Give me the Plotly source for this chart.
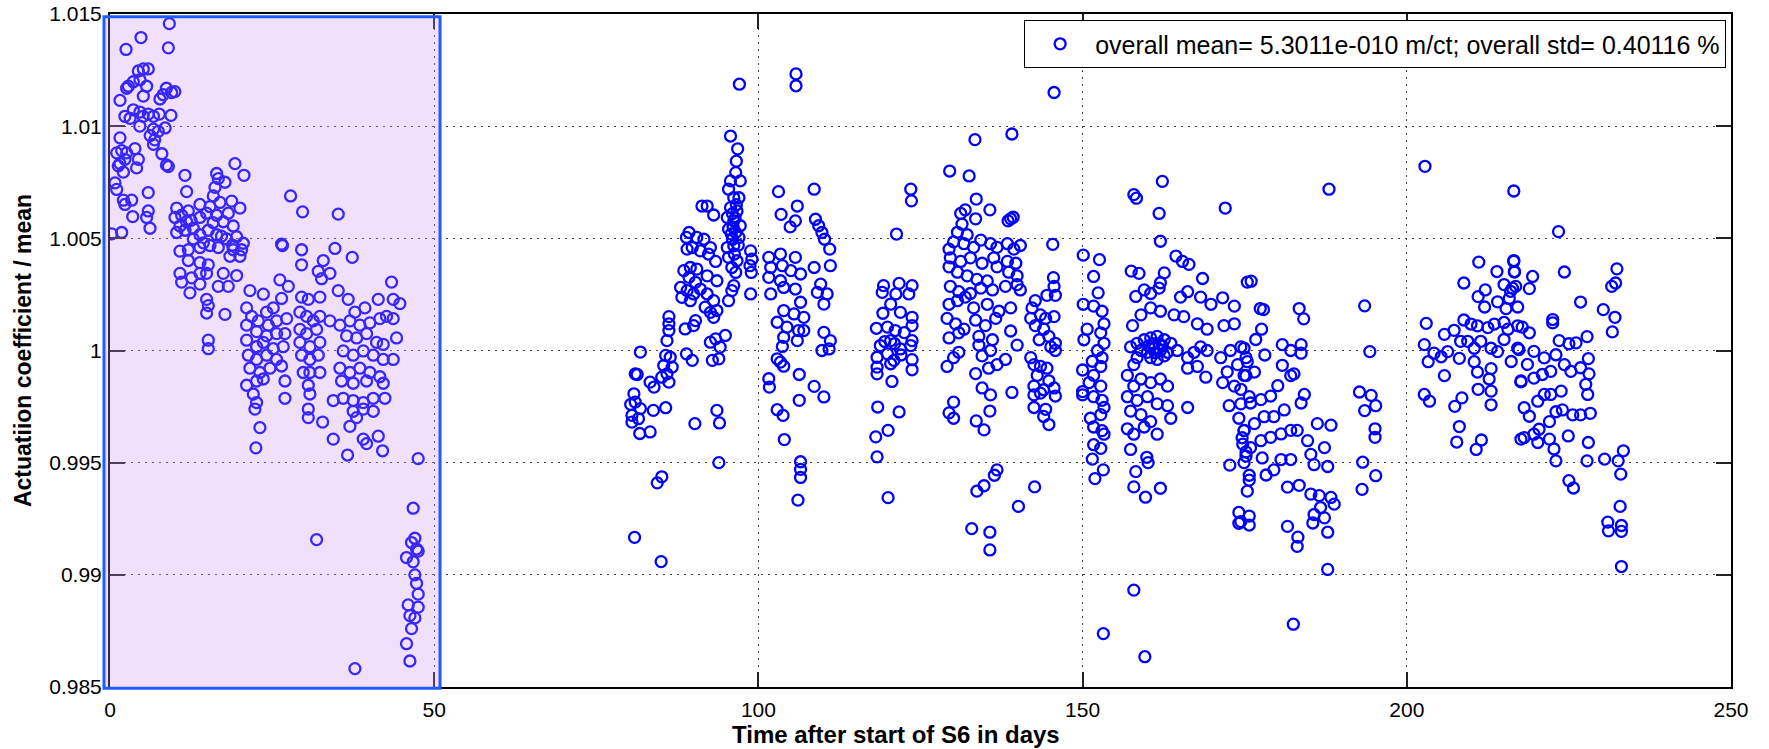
import plotly.graph_objects as go

# ---- data: (day, actuation coefficient / mean) ----
seg_days_0_10 = [
    (9.15, 1.01457), (4.78, 1.01395), (2.47, 1.01342), (9.0, 1.01349), (1.54, 1.01115),
    (5.14, 1.01255), (5.9, 1.01255), (4.37, 1.01246), (3.6, 1.01198), (2.83, 1.01178),
    (2.57, 1.01169), (4.62, 1.01207), (5.65, 1.01178), (5.14, 1.01134), (7.7, 1.01121),
    (8.2, 1.0114), (8.7, 1.01169), (9.5, 1.0115), (10.0, 1.01154), (2.3, 1.01044),
    (3.1, 1.01035), (3.6, 1.01073), (4.6, 1.01063), (5.1, 1.01044), (5.9, 1.01054),
    (6.7, 1.01044), (7.6, 1.01054), (9.4, 1.01048), (4.6, 1.0100), (6.7, 1.00987),
    (7.45, 1.00977), (8.5, 1.00992), (6.2, 1.00958), (6.9, 1.00939), (6.7, 1.00919),
    (8.0, 1.00877), (8.7, 1.00827), (9.0, 1.0082), (1.54, 1.00948), (1.03, 1.00881),
    (1.8, 1.00891), (2.57, 1.00881), (3.85, 1.009), (4.37, 1.00852), (4.1, 1.00814),
    (2.3, 1.00852), (1.54, 1.00833), (2.06, 1.00795), (1.28, 1.00823), (0.77, 1.00747),
    (1.03, 1.00718), (2.06, 1.0067), (2.3, 1.00651), (3.34, 1.0067), (3.5, 1.00597),
    (5.9, 1.00704), (5.65, 1.00593), (6.17, 1.00545), (5.9, 1.00622), (1.8, 1.00526),
    (0.26, 1.0052),
]
seg_days_10_21 = [
    (11.56, 1.00781), (16.44, 1.00789), (16.7, 1.00766), (17.73, 1.0075), (19.27, 1.00833),
    (20.66, 1.00781), (11.82, 1.00708), (16.19, 1.00727), (15.93, 1.00689), (18.76, 1.00666),
    (20.04, 1.00635), (10.28, 1.00635), (11.05, 1.00603), (12.08, 1.00622), (13.87, 1.00651),
    (15.42, 1.00641), (16.96, 1.0066), (18.24, 1.00612), (10.02, 1.00593), (10.79, 1.00555),
    (11.82, 1.00574), (12.85, 1.00545), (13.87, 1.00593), (14.9, 1.00612), (16.44, 1.00603),
    (17.47, 1.00574), (19.01, 1.00555), (10.28, 1.00526), (11.56, 1.00536), (12.85, 1.00497),
    (13.87, 1.00516), (15.16, 1.00536), (16.44, 1.00516), (17.99, 1.00497), (19.53, 1.00507),
    (20.55, 1.00478), (10.79, 1.00443), (12.08, 1.00449), (13.87, 1.00459), (15.42, 1.00468),
    (16.7, 1.00459), (19.01, 1.00449), (20.3, 1.00449), (12.08, 1.00401), (13.87, 1.00392),
    (15.16, 1.00382), (18.5, 1.0042), (20.04, 1.0042), (10.79, 1.00344), (11.05, 1.00305),
    (12.59, 1.00324), (13.87, 1.00344), (14.9, 1.00344), (17.47, 1.00344), (19.53, 1.00334),
    (12.33, 1.00257), (13.87, 1.00296), (16.7, 1.00286), (18.24, 1.00286), (14.9, 1.00228),
    (15.16, 1.002), (14.9, 1.00167), (17.73, 1.00161), (15.16, 1.00046), (15.16, 1.00008),
    (14.4, 1.0048), (15.9, 1.0057), (17.2, 1.0051), (18.9, 1.0047), (12.5, 1.0058),
]
seg_days_21_48 = [
    (26.46, 1.00474), (26.6, 1.00468), (27.85, 1.00689), (29.7, 1.00618), (29.55, 1.00449),
    (29.55, 1.00382), (35.2, 1.00608), (34.69, 1.00455), (37.36, 1.00415), (32.89, 1.00401),
    (32.12, 1.00353), (33.92, 1.00344), (32.63, 1.0032), (26.2, 1.00315), (27.5, 1.00286),
    (21.58, 1.00267), (23.64, 1.00251), (26.46, 1.00232), (25.18, 1.0019), (24.15, 1.00171),
    (21.07, 1.0019), (21.84, 1.00152), (22.87, 1.00132), (24.41, 1.00113), (25.69, 1.00132),
    (27.24, 1.00142), (21.07, 1.00113), (22.61, 1.00084), (24.15, 1.00065), (25.69, 1.00075),
    (26.98, 1.00075), (21.07, 1.00046), (22.61, 1.00017), (23.64, 1.00036), (25.18, 1.00008),
    (26.72, 1.00017), (21.33, 0.99979), (22.61, 0.9996), (24.15, 0.99979), (25.69, 0.9996),
    (21.58, 0.99921), (23.12, 0.99902), (24.67, 0.99921), (26.46, 0.99931), (21.07, 0.99845),
    (22.61, 0.99864), (23.64, 0.99873), (26.98, 0.99864), (22.1, 0.99806), (22.61, 0.99768),
    (22.35, 0.99739), (26.98, 0.99787), (23.12, 0.99656), (22.5, 0.99566),
    (29.55, 1.00238), (30.58, 1.00228), (32.37, 1.00238), (29.29, 1.00171), (30.32, 1.00152),
    (31.35, 1.00132), (32.37, 1.00152), (33.92, 1.00132), (29.29, 1.00094), (30.32, 1.00075),
    (31.86, 1.00094), (29.29, 1.00036), (30.83, 1.00017), (32.37, 1.00036), (29.55, 0.99979),
    (30.83, 0.9996), (32.12, 0.99979), (29.8, 0.99902), (30.83, 0.99902), (32.37, 0.99902),
    (30.58, 0.99845), (30.83, 0.99806), (30.58, 0.99739), (30.58, 0.99701), (32.79, 0.99681),
    (34.43, 0.99605), (35.2, 1.00267), (36.74, 1.00228), (37.77, 1.00171), (39.31, 1.0019),
    (41.37, 1.00228), (43.42, 1.00305), (43.68, 1.00228), (44.71, 1.00209), (35.46, 1.00113),
    (37.0, 1.00132), (38.54, 1.00113), (40.08, 1.00123), (41.62, 1.00142), (42.65, 1.00152),
    (43.68, 1.00142), (36.49, 1.00065), (38.03, 1.00056), (39.57, 1.00075), (41.11, 1.00036),
    (42.14, 1.00027), (44.19, 1.00056), (35.97, 0.99998), (37.51, 0.99979), (39.06, 0.99998),
    (40.6, 0.99979), (42.14, 0.9996), (43.68, 0.9996), (35.46, 0.99921), (37.0, 0.99902),
    (38.54, 0.99921), (40.08, 0.99902), (41.62, 0.99883), (35.71, 0.99864), (37.51, 0.99854),
    (39.57, 0.99864), (42.14, 0.99854), (34.43, 0.99777), (35.97, 0.99787), (37.51, 0.99777),
    (39.06, 0.99768), (40.6, 0.99787), (42.4, 0.99787), (37.51, 0.99729), (39.06, 0.99739),
    (40.6, 0.99729), (38.03, 0.99701), (37.0, 0.99662), (39.06, 0.99605), (39.57, 0.99585),
    (41.37, 0.99618), (42.04, 0.99553), (36.64, 0.99534), (47.53, 0.99518),
    (31.86, 0.99157), (46.76, 0.99297), (47.02, 0.99163), (46.5, 0.99144), (47.28, 0.99115),
    (45.73, 0.99077), (46.76, 0.99058), (47.53, 0.99106), (47.02, 0.9900), (47.28, 0.98962),
    (47.53, 0.98914), (45.99, 0.98866), (47.53, 0.98856), (46.25, 0.98818), (47.02, 0.98808),
    (46.5, 0.9876), (45.73, 0.98693), (46.25, 0.98616), (37.77, 0.98582),
]
seg_days_75_126 = [
    (97.07, 1.01187), (105.8, 1.01233), (105.8, 1.0118),
    (81.8, 0.99993), (81.0, 0.99896), (81.3, 0.99893), (83.3, 0.99859), (83.9, 0.99837),
    (80.8, 0.99807), (80.3, 0.9976), (81.0, 0.9977), (81.8, 0.99741), (80.5, 0.99711),
    (81.5, 0.99696), (80.5, 0.99681), (81.7, 0.9963), (83.3, 0.99637), (83.8, 0.99733),
    (85.7, 0.99745), (84.4, 0.9941), (85.1, 0.99437), (80.9, 0.99167), (85.0, 0.99059),
    (86.2, 1.00151), (86.2, 1.00119), (86.2, 1.00089), (85.9, 1.00044), (85.7, 0.99978),
    (86.4, 0.9997), (85.4, 0.99933), (86.7, 0.99926), (85.9, 0.99896), (85.1, 0.99881),
    (86.2, 0.99859), (88.7, 1.00096), (90.3, 1.00133), (90.0, 1.00111), (88.9, 0.99985),
    (89.8, 0.99956), (90.2, 0.99674),
    (89.3, 1.00526), (88.9, 1.00504), (89.0, 1.00452), (90.5, 1.00504), (91.6, 1.00496),
    (91.3, 1.00644), (92.1, 1.00644), (93.1, 1.00604), (89.8, 1.00459), (91.05, 1.00444),
    (92.6, 1.00459), (92.3, 1.0043), (93.4, 1.00397), (88.5, 1.00356), (89.5, 1.0037),
    (90.5, 1.00363), (89.3, 1.00326), (90.3, 1.00304), (92.1, 1.00333), (93.6, 1.00311),
    (88.0, 1.00281), (89.0, 1.00267), (90.0, 1.00252), (91.05, 1.00274), (88.2, 1.00237),
    (89.5, 1.00222), (92.1, 1.00252), (93.1, 1.00222), (91.8, 1.00193), (92.6, 1.0017),
    (93.6, 1.00178), (93.1, 1.00148), (92.6, 1.00037), (93.4, 1.00052), (94.1, 1.00015),
    (94.9, 1.00067), (92.9, 0.99956), (93.9, 0.99963), (93.6, 0.99733), (94.0, 0.99677),
    (93.9, 0.995),
    (95.7, 1.00956), (96.8, 1.00899), (96.6, 1.00844), (96.5, 1.00793), (95.7, 1.00756),
    (97.2, 1.00756), (95.4, 1.00719), (96.2, 1.00681), (97.0, 1.00681), (95.7, 1.00637),
    (96.7, 1.00622), (95.2, 1.00593), (96.2, 1.00578), (97.2, 1.00556), (95.4, 1.00541),
    (96.5, 1.00526), (96.0, 1.00496), (97.0, 1.00504), (95.2, 1.00459), (96.2, 1.00467),
    (95.4, 1.00415), (96.7, 1.004), (95.9, 1.0037), (96.5, 1.00348), (96.2, 1.00289),
    (95.9, 1.00267), (95.4, 1.00222), (96.0, 1.0061), (96.4, 1.0059), (96.1, 1.0055),
    (96.6, 1.0065), (95.8, 1.0052), (96.9, 1.0047), (96.3, 1.0043),
    (98.8, 1.00444), (99.0, 1.00407), (98.7, 1.00378), (98.9, 1.00348), (98.8, 1.00252),
    (103.1, 1.00708), (108.6, 1.00719), (106.0, 1.00644), (103.5, 1.00607), (105.7, 1.00578),
    (104.9, 1.00551), (108.8, 1.00585), (109.3, 1.00556), (109.8, 1.00526), (110.2, 1.00496),
    (111.0, 1.00452), (111.1, 1.00378), (108.6, 1.0037), (101.6, 1.00415), (103.4, 1.0043),
    (105.7, 1.00415), (101.9, 1.0037), (103.7, 1.00378), (105.0, 1.00356), (106.5, 1.00341),
    (101.6, 1.00326), (103.4, 1.00311), (105.7, 1.00274), (101.9, 1.00252), (103.9, 1.00281),
    (109.6, 1.00296), (109.1, 1.00259), (110.6, 1.00252), (110.1, 1.00207), (106.5, 1.00215),
    (103.9, 1.00178), (105.5, 1.00163), (107.0, 1.00148), (102.9, 1.00126), (104.4, 1.00104),
    (106.2, 1.00089), (107.0, 1.00089), (103.9, 1.00059), (106.0, 1.00044), (110.1, 1.00081),
    (111.1, 1.00044), (109.8, 1.0), (110.9, 1.00007), (103.7, 1.00018), (102.9, 0.99963),
    (103.4, 0.99948), (103.9, 0.9993), (106.3, 0.99893), (101.6, 0.99874), (101.7, 0.99837),
    (108.6, 0.9984), (110.1, 0.99793), (106.3, 0.99778), (102.9, 0.99736), (103.8, 0.99711),
    (104.0, 0.99603), (106.5, 0.99504), (106.5, 0.9947), (106.5, 0.99434), (106.1, 0.99333),
    (123.5, 1.00719), (123.6, 1.00667), (121.3, 1.00519), (119.3, 1.00289), (119.1, 1.00259),
    (121.7, 1.00299), (123.7, 1.00289), (121.2, 1.00252), (123.2, 1.00252), (120.4, 1.00207),
    (119.2, 1.00166), (121.9, 1.0017), (123.7, 1.00148), (118.2, 1.00099), (119.9, 1.00104),
    (121.1, 1.00089), (123.7, 1.00111), (118.8, 1.00022), (120.4, 1.00044), (121.9, 1.00007),
    (123.7, 1.00044), (123.5, 1.00022), (118.3, 0.9997), (119.9, 0.99985), (120.9, 0.99956),
    (123.7, 0.99959), (118.3, 0.99926), (120.4, 0.99941), (123.7, 0.99914), (118.3, 0.99896),
    (120.6, 0.99862), (118.4, 0.99748), (121.7, 0.99726), (120.0, 0.99644), (118.1, 0.99615),
    (118.3, 0.99526), (120.0, 0.99344), (119.5, 1.0004), (122.5, 1.0008), (121.0, 1.0003),
    (122.0, 0.9998),
]
seg_days_126_176 = [
    (145.6, 1.0115), (133.4, 1.0094), (139.1, 1.00965), (129.5, 1.008), (132.5, 1.00778),
    (133.6, 1.00675), (135.7, 1.00627), (138.9, 1.00587), (138.5, 1.00578), (139.3, 1.00594),
    (131.2, 1.00611), (131.9, 1.00627), (133.5, 1.00587), (131.4, 1.00563), (130.7, 1.00527),
    (132.2, 1.00516), (129.4, 1.00452), (130.1, 1.00484), (131.7, 1.00476), (133.2, 1.0046),
    (134.3, 1.00492), (135.8, 1.00476), (136.8, 1.0046), (138.4, 1.00476), (139.4, 1.00452),
    (140.4, 1.00468), (145.4, 1.00473), (129.6, 1.00413), (131.2, 1.00397), (132.7, 1.00413),
    (134.5, 1.00389), (136.3, 1.00413), (138.4, 1.00397), (139.7, 1.00389), (129.4, 1.00373),
    (130.7, 1.00349), (132.2, 1.00333), (133.7, 1.00317), (135.3, 1.0031), (136.8, 1.00373),
    (138.6, 1.00349), (139.9, 1.00333), (129.6, 1.00286), (130.9, 1.00262), (132.7, 1.00254),
    (134.3, 1.00278), (136.1, 1.0027), (138.1, 1.00286), (139.9, 1.00294), (140.4, 1.0027),
    (129.4, 1.00206), (130.7, 1.00222), (131.9, 1.00238), (133.2, 1.0019), (135.3, 1.00206),
    (137.1, 1.00175), (138.9, 1.0019), (129.1, 1.00143), (130.4, 1.00119), (131.7, 1.00095),
    (133.5, 1.00135), (135.0, 1.00111), (136.6, 1.00143), (138.9, 1.00087), (129.4, 1.00056),
    (130.9, 1.00079), (134.0, 1.00063), (136.1, 1.00048), (139.9, 1.00024), (134.0, 1.00024),
    (135.8, 1.0), (129.1, 0.99929), (130.1, 0.99968), (130.9, 0.99992), (134.5, 0.99976),
    (133.5, 0.99897), (135.5, 0.99921), (136.8, 0.99937), (138.1, 0.9996), (134.5, 0.99833),
    (135.8, 0.99802), (139.1, 0.99813), (135.7, 0.9973), (130.1, 0.9977), (129.4, 0.99722),
    (130.1, 0.99698), (133.6, 0.99686), (134.8, 0.99646), (136.8, 0.99468), (136.4, 0.99444),
    (134.8, 0.99397), (133.7, 0.99373), (142.6, 0.99392), (140.1, 0.99305), (132.9, 0.99206),
    (135.7, 0.9919), (135.7, 0.99111),
    (145.5, 1.00325), (145.6, 1.00286), (145.8, 1.00246), (144.5, 1.00246), (142.7, 1.00222),
    (142.2, 1.0019), (142.0, 1.00143), (143.5, 1.00159), (144.3, 1.00143), (145.6, 1.00151),
    (142.7, 1.00111), (144.0, 1.00095), (144.8, 1.00063), (145.8, 1.00032), (143.3, 1.00048),
    (145.1, 1.00016), (145.8, 1.0), (142.0, 0.99968), (142.5, 0.99937), (143.5, 0.99929),
    (144.5, 0.99921), (143.0, 0.99889), (144.8, 0.99865), (142.5, 0.99841), (144.0, 0.99825),
    (145.6, 0.99833), (142.5, 0.99802), (143.5, 0.9981), (145.8, 0.99797), (142.5, 0.99746),
    (144.3, 0.99738), (144.0, 0.99706), (144.8, 0.9967),
    (150.1, 1.00425), (152.6, 1.00405), (151.7, 1.0033), (152.4, 1.00257), (150.1, 1.00206),
    (151.7, 1.00198), (153.0, 1.00175), (153.3, 1.00119), (150.7, 1.00095), (152.8, 1.00079),
    (150.2, 1.00048), (153.3, 1.00032), (152.3, 1.0), (153.0, 0.99968), (151.5, 0.99952),
    (152.8, 0.99929), (150.0, 0.99913), (151.7, 0.99889), (151.0, 0.99857), (152.8, 0.99841),
    (150.0, 0.99817), (150.0, 0.99802), (151.7, 0.99794), (153.0, 0.99778), (153.3, 0.99746),
    (151.2, 0.99698), (152.8, 0.99714), (151.7, 0.99659), (153.0, 0.99643), (153.3, 0.99627),
    (151.7, 0.9958), (152.8, 0.99564), (151.5, 0.99516), (153.2, 0.99468), (151.9, 0.99429),
    (153.2, 0.98738), (157.9, 0.98932), (159.6, 0.98635),
    (162.3, 1.00754), (157.9, 1.00695), (158.3, 1.00679), (161.8, 1.00611), (162.0, 1.00487),
    (172.0, 1.00635), (164.4, 1.00421), (165.4, 1.00397), (166.4, 1.00384), (157.5, 1.00354),
    (158.7, 1.00344), (162.6, 1.00346), (162.0, 1.00302), (168.5, 1.00321), (158.2, 1.00241),
    (159.5, 1.0027), (160.5, 1.00254), (161.8, 1.00278), (165.1, 1.00238), (166.2, 1.00262),
    (168.2, 1.00238), (169.8, 1.00206), (171.6, 1.00235), (173.4, 1.00198), (157.7, 1.00111),
    (159.0, 1.00159), (160.5, 1.0019), (162.0, 1.00175), (164.1, 1.00159), (165.6, 1.00151),
    (167.7, 1.00119), (169.2, 1.00095), (171.8, 1.00111), (173.4, 1.00119),
    (157.4, 1.00016), (158.4, 1.00032), (159.5, 1.00048), (160.5, 1.00056), (161.5, 1.00063),
    (162.6, 1.00048), (163.6, 1.00032), (159.0, 1.0), (160.0, 0.99992), (161.0, 1.00008),
    (162.0, 1.0), (163.1, 0.99992), (160.5, 0.99968), (161.5, 0.9996), (162.6, 0.99976),
    (158.4, 0.99968), (164.6, 1.0), (166.2, 0.99968), (167.2, 0.99992), (168.2, 1.00016),
    (169.2, 1.0), (166.2, 0.99921), (167.7, 0.99929), (169.0, 0.99881), (157.9, 0.99937),
    (160.8, 1.0003), (161.2, 0.9999), (160.2, 1.0002), (161.8, 1.0003), (162.3, 1.0002),
    (156.9, 0.99889), (157.9, 0.99841), (159.0, 0.99873), (160.5, 0.99857), (162.0, 0.99873),
    (163.1, 0.99841), (156.9, 0.99794), (158.4, 0.99778), (160.0, 0.99794), (161.5, 0.99762),
    (163.1, 0.99754), (163.6, 0.99698), (166.2, 0.99746), (157.4, 0.9973), (159.0, 0.99714),
    (160.5, 0.99683), (156.9, 0.99651), (157.9, 0.99627), (159.5, 0.99659), (161.5, 0.99627),
    (157.4, 0.99559), (158.2, 0.9946), (159.9, 0.99524), (160.1, 0.995), (157.9, 0.99392),
    (159.7, 0.99346), (162.0, 0.99386),
    (175.4, 1.00305), (171.3, 0.99968), (172.8, 1.0), (174.4, 1.00016), (172.3, 0.99905),
    (173.9, 0.99937), (175.2, 0.99968), (171.6, 0.99857), (173.4, 0.99841), (174.9, 0.99889),
    (172.6, 0.99754), (174.4, 0.99762), (175.7, 0.99794), (174.1, 0.99698), (174.9, 0.99643),
    (174.6, 0.99611), (175.2, 0.99548), (174.9, 0.995), (175.7, 0.99444), (172.7, 0.99489),
    (175.4, 0.99373), (174.1, 0.99278), (174.1, 0.9923), (175.7, 0.99262),
]
seg_days_176_218 = [
    (188.0, 1.00719), (202.8, 1.00821), (216.5, 1.00711), (176.0, 1.00309), (177.4, 1.00187),
    (177.9, 1.00182), (177.6, 1.00095), (176.7, 1.00049), (178.1, 0.9998), (183.4, 1.00187),
    (184.1, 1.00141), (180.8, 1.00026), (182.1, 1.0), (183.7, 1.00026), (183.7, 0.99988),
    (193.5, 1.00199), (194.3, 0.99995), (174.9, 1.0001), (175.4, 0.9995), (176.5, 0.99904),
    (175.2, 0.99888), (174.4, 0.99827), (175.9, 0.99766), (177.5, 0.99781), (179.0, 0.99797),
    (180.1, 0.99843), (180.8, 0.99934), (182.1, 0.99888), (182.6, 0.99896),
    (184.2, 0.99804), (183.7, 0.99766), (181.1, 0.99735), (179.5, 0.99705), (178.0, 0.99705),
    (176.5, 0.99674), (174.9, 0.99644), (174.7, 0.99583), (175.9, 0.99567), (177.5, 0.99598),
    (179.0, 0.99613), (180.6, 0.99628), (182.1, 0.99644), (183.1, 0.99644), (184.7, 0.99598),
    (186.2, 0.99674), (188.3, 0.99667), (187.3, 0.99567), (185.2, 0.99537), (185.7, 0.99491),
    (187.8, 0.99483), (182.1, 0.99514), (180.6, 0.99514), (177.7, 0.99521), (179.5, 0.99468),
    (178.3, 0.99445), (175.7, 0.99422), (175.2, 0.99529), (181.6, 0.99391), (183.4, 0.99399),
    (185.2, 0.9936), (186.5, 0.99353), (188.3, 0.99345), (188.8, 0.99315), (186.7, 0.993),
    (185.7, 0.99269), (187.3, 0.99254), (187.8, 0.9919), (185.5, 0.99231), (181.6, 0.99216),
    (183.2, 0.99168), (183.1, 0.99127), (175.7, 0.99222), (174.4, 0.99237),
    (187.8, 0.99024), (182.5, 0.9878),
    (192.7, 0.99815), (194.5, 0.998), (195.2, 0.99754), (193.5, 0.99732), (195.1, 0.99651),
    (195.1, 0.99613), (193.2, 0.99502), (195.2, 0.99442), (193.1, 0.99381),
    (211.1, 1.00394), (213.9, 1.00352), (216.5, 1.00401), (216.6, 1.00352), (208.8, 1.00301),
    (212.1, 1.0027), (211.0, 1.0024), (212.0, 1.00194), (214.0, 1.00217), (215.0, 1.00294),
    (216.3, 1.00278), (215.8, 1.00232), (215.3, 1.00187), (217.1, 1.00194), (203.0, 1.00121),
    (205.8, 1.00072), (207.3, 1.0009), (208.8, 1.00136), (209.9, 1.00118), (210.9, 1.0011),
    (212.5, 1.00102), (213.5, 1.00118), (215.0, 1.00125), (215.6, 1.00095), (217.1, 1.0011),
    (202.7, 1.00026), (204.2, 0.99988), (205.3, 0.99972), (206.3, 0.99995), (208.3, 1.00041),
    (209.4, 1.00041), (210.4, 1.0001), (211.4, 1.00041), (213.0, 1.0001), (214.0, 0.99995),
    (215.0, 1.00049), (216.1, 0.99951), (217.1, 1.0001), (203.3, 0.9995), (205.8, 0.99888),
    (208.1, 0.99965), (210.4, 0.9995), (210.9, 0.99904), (213.0, 0.99919), (212.7, 0.99873),
    (211.0, 0.99827), (213.0, 0.99819), (202.7, 0.99804), (203.5, 0.99774), (208.5, 0.99789),
    (207.4, 0.99751), (213.0, 0.99758), (208.1, 0.99661), (207.7, 0.99592), (211.5, 0.99601),
    (210.7, 0.99559), (217.6, 0.9986), (217.6, 0.99605),
]
seg_days_218_234 = [
    (223.4, 1.0053), (216.5, 1.00397), (216.6, 1.0035), (219.4, 1.0033), (218.9, 1.00276),
    (216.8, 1.00286), (216.0, 1.00264), (224.3, 1.0035), (232.4, 1.00364), (232.2, 1.00301),
    (231.6, 1.00286), (226.8, 1.00216), (230.3, 1.00182), (232.1, 1.00148), (231.7, 1.00083),
    (222.5, 1.00138), (222.5, 1.00123), (227.8, 1.00062), (217.8, 1.00104), (218.9, 1.00079),
    (226.1, 1.00034), (225.0, 1.0003), (223.5, 1.00044), (217.3, 1.00004), (219.6, 0.99996),
    (221.2, 0.99967), (223.0, 0.99981), (224.3, 0.99937), (225.3, 0.99907), (226.8, 0.99923),
    (228.0, 0.99964), (228.1, 0.99896), (227.6, 0.99849), (227.9, 0.99804), (218.6, 0.99938),
    (217.6, 0.99864), (219.6, 0.99877), (220.9, 0.99893), (222.2, 0.99907), (223.8, 0.99819),
    (218.1, 0.99745), (218.9, 0.99707), (220.2, 0.99774), (221.2, 0.99804), (222.2, 0.99804),
    (223.0, 0.99727), (224.0, 0.99735), (225.6, 0.99713), (226.8, 0.99713), (228.3, 0.9972),
    (222.0, 0.99683), (220.4, 0.99649), (219.6, 0.99627), (218.1, 0.99612), (220.2, 0.9959),
    (222.0, 0.99605), (224.9, 0.99619), (228.0, 0.9959), (222.7, 0.99561), (223.0, 0.99508),
    (227.8, 0.99508), (230.5, 0.99516), (232.6, 0.99508), (233.4, 0.99553), (233.0, 0.99449),
    (225.0, 0.9942), (225.7, 0.99387), (232.9, 0.99305), (231.0, 0.99235), (233.1, 0.9922),
    (231.1, 0.99196), (233.1, 0.99194), (233.1, 0.99037),
]

legend_label = "overall mean= 5.3011e-010 m/ct; overall std= 0.40116 %"
x_title = "Time after start of S6 in days"
y_title = "Actuatiion coefficient / mean"
x_ticks = [0, 50, 100, 150, 200, 250]
y_ticks = [0.985, 0.99, 0.995, 1.0, 1.005, 1.01, 1.015]
y_ticktext = ["0.985", "0.99", "0.995", "1", "1.005", "1.01", "1.015"]
x_range = [0, 250]
y_range = [0.985, 1.015]
highlight_days = [0, 51]  # shaded early period

segments = [seg_days_0_10, seg_days_10_21, seg_days_21_48, seg_days_75_126,
            seg_days_126_176, seg_days_176_218, seg_days_218_234]
days = [p[0] for s in segments for p in s]
vals = [p[1] for s in segments for p in s]

FONT = "Liberation Sans, Arial, Helvetica, sans-serif"

fig = go.Figure()
fig.add_trace(go.Scatter(
    x=days, y=vals, mode="markers", name=legend_label,
    marker=dict(symbol="circle-open", size=11, color="#0000ff",
                line=dict(width=2.3, color="#0000ff")),
))

axis_common = dict(
    showline=True, linecolor="black", linewidth=2, mirror="ticks",
    ticks="inside", ticklen=15, tickwidth=2, tickcolor="#222",
    showgrid=True, gridcolor="#444", gridwidth=1, griddash="2px,5px",
    zeroline=False, automargin=False,
    tickfont=dict(family=FONT, size=21, color="black"),
)
fig.update_xaxes(range=x_range, tickvals=x_ticks, **axis_common,
                 ticklabelstandoff=3)
fig.update_yaxes(range=y_range, tickvals=y_ticks, ticktext=y_ticktext, **axis_common,
                 ticklabelstandoff=2,
                 title=dict(text="<b>%s</b>" % y_title, standoff=11,
                            font=dict(family=FONT, size=23, color="black")))

# x-axis title (placed slightly left of centre, as in the original)
fig.add_annotation(text="<b>%s</b>" % x_title, xref="paper", yref="paper",
                   x=0.485, y=-0.0915, xanchor="center", yanchor="bottom",
                   showarrow=False, borderpad=0,
                   font=dict(family=FONT, size=24, color="black"))

# shaded early-period box (drawn above the points, semi-transparent)
span = x_range[1] - x_range[0]
fig.add_shape(type="rect", xref="paper", yref="paper",
              x0=(highlight_days[0] - x_range[0]) / span - 0.0037,
              x1=(highlight_days[1] - x_range[0]) / span - 0.0004,
              y0=-0.002, y1=0.996, layer="above",
              fillcolor="rgba(200,142,244,0.275)",
              line=dict(color="#1f5cff", width=3))

fig.update_layout(
    width=1769, height=749,
    margin=dict(l=110, r=38, t=14, b=62),
    paper_bgcolor="white", plot_bgcolor="white",
    font=dict(family=FONT, color="black"),
    showlegend=True,
    legend=dict(x=0.997, y=0.991, xanchor="right", yanchor="top",
                bgcolor="white", bordercolor="black", borderwidth=1,
                font=dict(family=FONT, size=25, color="black"),
                itemwidth=60, tracegroupgap=0),
)

fig.write_html("out.html")
